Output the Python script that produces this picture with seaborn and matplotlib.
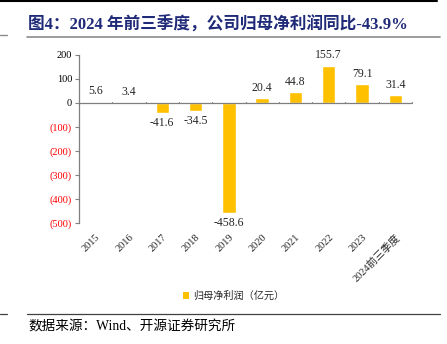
import matplotlib
matplotlib.use("Agg")
import matplotlib.pyplot as plt
import seaborn as sns
import pandas as pd
from matplotlib.lines import Line2D
from matplotlib.patches import Patch

categories = ["2015", "2016", "2017", "2018", "2019", "2020", "2021", "2022", "2023", "2024前三季度"]
values = [5.6, 3.4, -41.6, -34.5, -458.6, 20.4, 44.8, 155.7, 79.1, 31.4]
yticks = [200, 100, 0, -100, -200, -300, -400, -500]
series_name = "归母净利润（亿元）"
title = "图4：2024 年前三季度，公司归母净利润同比-43.9%"
source = "数据来源：Wind、开源证券研究所"

sns.set_theme(style="white")
plt.rcParams['font.family'] = ['Liberation Serif', 'Noto Sans CJK SC', 'DejaVu Sans']

df = pd.DataFrame({"cat": categories, "val": values})

fig = plt.figure(figsize=(4.47, 3.44), dpi=100)
ax = fig.add_axes([79/447, 1-223/344, (412-79)/447, (223-55)/344])
sns.barplot(data=df, x="cat", y="val", color="#FFC000", saturation=1, width=0.4, ax=ax)

ax.set_ylim(-500, 200)
ax.set_xlim(-0.5, len(categories)-0.5)
ax.set_yticks(yticks)
labels = []
for t in yticks:
    labels.append(f"({abs(t)})" if t < 0 else f"{t}")
ax.set_yticklabels(labels, fontsize=7.5)
for lab, t in zip(ax.get_yticklabels(), yticks):
    lab.set_color("red" if t < 0 else "black")
ax.set_xlabel("")
ax.set_ylabel("")
ax.set_xticks(range(len(categories)))
ax.set_xticklabels(categories, rotation=45, ha="right", rotation_mode="anchor", fontsize=7.5)
ax.tick_params(axis="x", length=0, pad=7)
ax.tick_params(axis="y", length=3, width=0.8, color="#7f7f7f", direction="out", left=True, pad=2)
for s in ["top", "right", "bottom"]:
    ax.spines[s].set_visible(False)
ax.spines["left"].set_color("#7f7f7f")
ax.spines["left"].set_linewidth(0.9)
ax.axhline(0, color="#7f7f7f", lw=0.9)
for b in range(len(categories)+1):
    ax.plot([b-0.5, b-0.5], [0, 6], color="#7f7f7f", lw=0.8, clip_on=False)

for i, v in enumerate(values):
    if v >= 0:
        ax.annotate(f"{v}", (i, v), xytext=(0, 3), textcoords="offset points", ha="center", va="bottom", fontsize=8.5)
    else:
        ax.annotate(f"{v}", (i, v), xytext=(0, -3), textcoords="offset points", ha="center", va="top", fontsize=8.5)

handle = Patch(facecolor="#FFC000", edgecolor="none")
fig.legend([handle], [series_name], loc="center", bbox_to_anchor=(234/447, 1-296/344), frameon=False,
           handlelength=0.6, handleheight=0.6, handletextpad=0.4,
           prop={'family': ['Noto Sans CJK SC'], 'size': 7.3})

fig.text(28/447, 1-25/344, title, fontsize=12, fontweight="bold", color="#1F2A78", va="center", ha="left")
fig.add_artist(Line2D([0, 437/447], [1-1/344, 1-1/344], color="black", lw=1.5))
fig.add_artist(Line2D([27/447, 440/447], [1-37/344, 1-37/344], color="#8c8c8c", lw=1.2))
fig.add_artist(Line2D([0, 7/447], [1-35/344, 1-35/344], color="#8c8c8c", lw=1.0))
fig.add_artist(Line2D([27/447, 440/447], [1-314/344, 1-314/344], color="#404040", lw=0.9))
fig.add_artist(Line2D([0, 7/447], [1-314/344, 1-314/344], color="#404040", lw=0.9))
fig.text(28/447, 1-327/344, source, fontsize=9.8, color="black", va="center", ha="left",
         family=['Liberation Serif', 'Noto Sans CJK SC'])

fig.savefig("out.png", dpi=100)
